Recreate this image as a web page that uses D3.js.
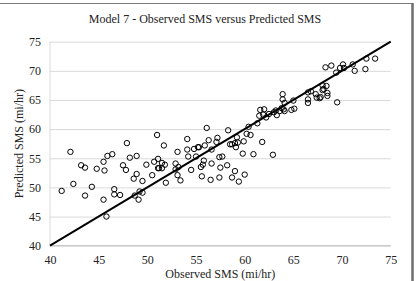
<!DOCTYPE html>
<html>
<head>
<meta charset="utf-8">
<script src="https://cdn.jsdelivr.net/npm/d3@7/dist/d3.min.js"></script>
<style>
  body { margin: 0; background: #fff; }
  svg { display: block; font-family: "Liberation Serif", "Times New Roman", serif; }
</style>
</head>
<body>
<div id="chart"></div>
<script>
const W = 418, H = 281;
const margin = { top: 41.7, right: 27.3, bottom: 35.3, left: 50 };
const width = W - margin.left - margin.right;
const height = H - margin.top - margin.bottom;

// observed SMS (x) and predicted SMS (y)
const observed = [41.2, 42.1, 42.4, 43.2, 43.6, 43.6, 44.3, 44.8, 45.5, 45.6, 45.5, 45.8, 45.9, 46.4, 46.6, 46.6,
  47.2, 47.5, 47.8, 47.9, 48.2, 48.6, 48.7, 48.9, 48.9, 49.1, 49.2, 49.5, 49.5, 49.9, 50.5, 50.7, 51.0, 51.1,
  51.1, 51.2, 51.5, 51.5, 51.7, 51.8, 51.9, 52.9, 52.9, 53.1, 53.1, 53.2, 53.4, 54.1, 54.1, 54.2, 54.5, 54.8,
  55.0, 55.2, 55.3, 55.6, 55.5, 55.7, 55.8, 55.9, 56.1, 56.3, 56.5, 56.6, 56.6, 57.1, 57.2, 57.4, 57.4, 57.5,
  57.7, 58.2, 58.3, 58.5, 58.7, 58.7, 59.0, 59.0, 59.1, 59.2, 59.3, 59.4, 59.8, 59.9, 60.0, 60.2, 60.4, 60.6,
  60.9, 61.3, 61.5, 61.6, 61.8, 61.9, 62.0, 62.2, 62.5, 62.9, 63.0, 63.2, 63.3, 63.6, 63.8, 63.9, 63.9, 64.0,
  64.1, 64.1, 64.8, 65.0, 65.1, 66.5, 66.5, 66.5, 66.8, 67.3, 67.4, 67.7, 67.8, 68.0, 68.0, 68.1, 68.4, 68.3,
  68.5, 68.5, 68.9, 69.4, 69.5, 69.8, 70.1, 70.2, 71.1, 71.3, 72.4, 72.5, 73.4];
const predicted = [49.4, 56.1, 50.6, 53.8, 53.4, 48.6, 50.1, 53.2, 54.4, 52.9, 47.9, 45.0, 55.4, 55.7, 49.7, 48.8,
  48.7, 53.8, 53.0, 57.6, 55.1, 51.5, 48.6, 55.4, 52.3, 47.9, 49.3, 49.1, 51.1, 53.9, 52.1, 54.4, 59.0, 54.9,
  53.3, 53.3, 54.2, 53.3, 57.2, 53.9, 50.8, 54.1, 53.1, 52.1, 56.1, 53.5, 51.2, 58.3, 56.5, 55.3, 53.0, 56.6,
  55.3, 56.9, 56.9, 51.9, 53.5, 53.9, 54.6, 57.2, 60.2, 58.1, 51.3, 56.5, 54.1, 57.8, 58.5, 55.2, 51.7, 53.4,
  55.3, 53.8, 59.8, 57.4, 57.4, 51.7, 57.6, 52.8, 56.9, 58.6, 57.7, 51.0, 55.8, 57.9, 52.2, 59.2, 60.4, 59.0,
  55.7, 61.0, 62.3, 63.3, 57.8, 62.5, 63.4, 62.0, 62.6, 55.6, 62.9, 63.2, 62.4, 63.1, 63.6, 65.1, 66.0, 63.4,
  64.5, 63.1, 63.3, 64.9, 63.5, 65.1, 64.5, 66.3, 66.5, 66.0, 65.4, 65.3, 65.5, 66.7, 67.5, 66.9, 67.4, 70.6,
  66.2, 65.7, 70.9, 69.7, 64.6, 70.5, 71.1, 70.5, 71.1, 70.0, 70.3, 72.1, 72.1];
const ticks = [40, 45, 50, 55, 60, 65, 70, 75];
const fitLine = [40, 75];

const svg = d3.select("#chart").append("svg")
  .attr("width", W)
  .attr("height", H);

// outer frame (top and right edges visible in the picture)
svg.append("line").attr("x1", 0).attr("x2", 413).attr("y1", 3.5).attr("y2", 3.5)
  .attr("stroke", "#7a7a7a").attr("stroke-width", 1.2);
svg.append("line").attr("x1", 412.5).attr("x2", 412.5).attr("y1", 3).attr("y2", H)
  .attr("stroke", "#6e6e6e").attr("stroke-width", 2.5);

const g = svg.append("g").attr("transform", `translate(${margin.left},${margin.top})`);

const x = d3.scaleLinear().domain([40, 75]).range([0, width]);
const y = d3.scaleLinear().domain([40, 75]).range([height, 0]);

// horizontal gridlines
g.append("g")
  .call(d3.axisLeft(y).tickValues(ticks).tickSize(-width).tickFormat(""))
  .call(a => a.select(".domain").remove())
  .call(a => a.selectAll("line").attr("stroke", "#d9d9d9"));

// left and bottom axis lines
g.append("line").attr("x1", 0).attr("x2", 0).attr("y1", 0).attr("y2", height).attr("stroke", "#d9d9d9");
g.append("line").attr("x1", 0).attr("x2", width).attr("y1", height).attr("y2", height).attr("stroke", "#bfbfbf");

const yAxis = g.append("g")
  .call(d3.axisLeft(y).tickValues(ticks).tickSize(0).tickPadding(9));
yAxis.select(".domain").remove();
yAxis.selectAll("text").attr("font-size", 12).attr("fill", "#222").attr("font-family", "Liberation Serif");

const xAxis = g.append("g")
  .attr("transform", `translate(0,${height})`)
  .call(d3.axisBottom(x).tickValues(ticks).tickSize(0).tickPadding(10));
xAxis.select(".domain").remove();
xAxis.selectAll("text").attr("font-size", 12).attr("fill", "#222").attr("font-family", "Liberation Serif");

// points
g.selectAll("circle.pt")
  .data(observed.map((o, i) => [o, predicted[i]]))
  .enter().append("circle")
  .attr("class", "pt")
  .attr("cx", d => x(d[0]))
  .attr("cy", d => y(d[1]))
  .attr("r", 2.7)
  .attr("fill", "none")
  .attr("stroke", "#000")
  .attr("stroke-width", 1);

// 1:1 line
g.append("path")
  .datum(fitLine)
  .attr("d", d3.line().x(d => x(d)).y(d => y(d)))
  .attr("stroke", "#000")
  .attr("stroke-width", 2)
  .attr("fill", "none");

svg.append("text")
  .attr("x", 205).attr("y", 23)
  .attr("text-anchor", "middle")
  .attr("font-size", 12)
  .attr("fill", "#222")
  .text("Model 7 - Observed SMS versus Predicted SMS");

svg.append("text")
  .attr("x", margin.left + width / 2).attr("y", 278)
  .attr("text-anchor", "middle")
  .attr("font-size", 12)
  .attr("fill", "#222")
  .text("Observed SMS (mi/hr)");

svg.append("text")
  .attr("transform", `translate(23,${margin.top + height / 2}) rotate(-90)`)
  .attr("text-anchor", "middle")
  .attr("font-size", 12)
  .attr("fill", "#222")
  .text("Predicted SMS (mi/hr)");
</script>
</body>
</html>
